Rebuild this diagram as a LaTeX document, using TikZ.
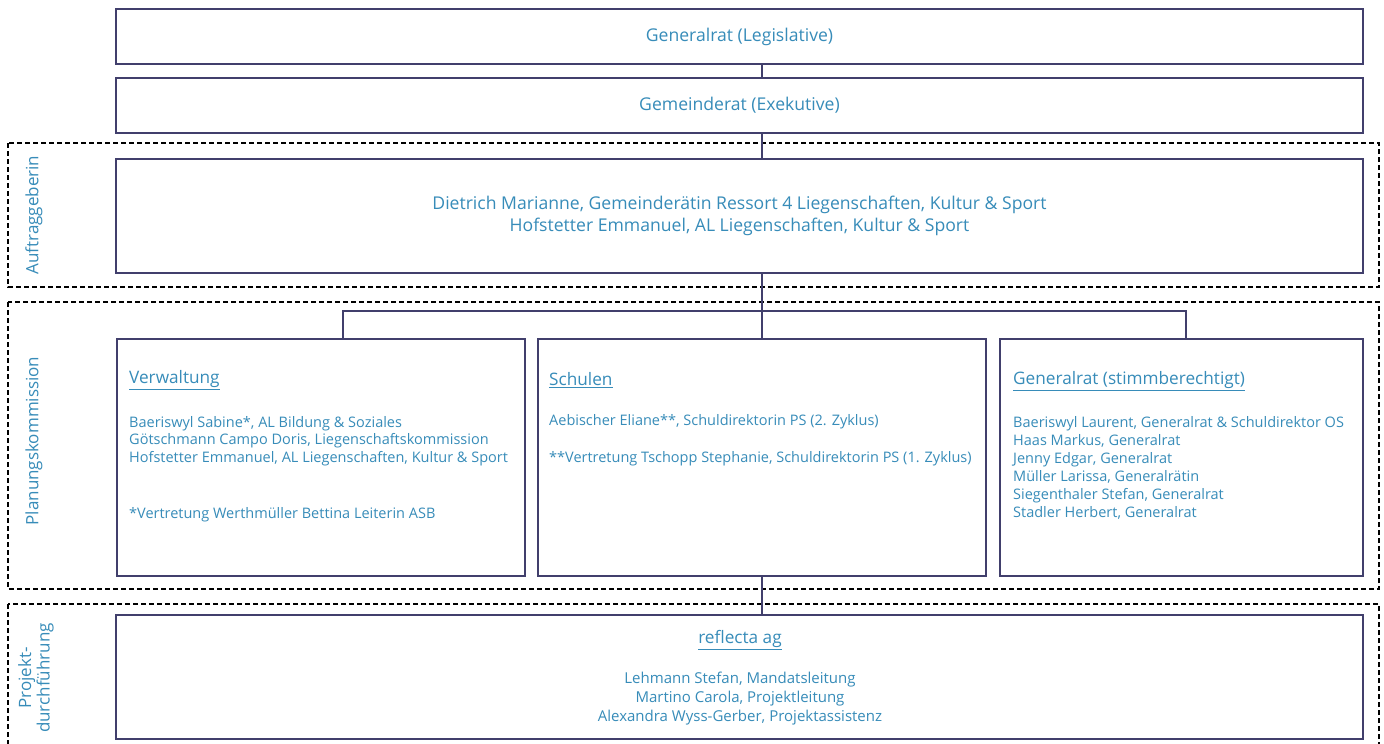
\documentclass[tikz,border=0pt]{standalone}
\usepackage{fontspec}
\setmainfont{Open Sans}
\definecolor{txt}{RGB}{55,140,185}
\definecolor{bord}{RGB}{65,63,108}
\begin{document}
\begin{tikzpicture}[x=1pt,y=-1pt,
  box/.style={draw=bord, line width=1.8pt, fill=white, inner sep=0pt},
  frame/.style={draw=black, line width=1.6pt, dash pattern=on 5pt off 3pt},
  conn/.style={draw=bord, line width=1.8pt},
  big/.style={text=txt, font=\fontsize{17.6}{22.5}\selectfont, align=center},
  head/.style={text=txt, font=\fontsize{17.2}{20}\selectfont, anchor=west, inner sep=0pt},
  small/.style={text=txt, font=\fontsize{14.5}{17.6}\selectfont, align=left, anchor=west, inner sep=0pt},
  lab/.style={text=txt, font=\fontsize{17}{18.5}\selectfont, rotate=90, align=center, inner sep=0pt}]
\useasboundingbox (0,0) rectangle (1384,744);
\clip (0,0) rectangle (1384,744);
\fill[white] (0,0) rectangle (1384,744);

% dashed frames
\draw[frame] (8,143) rectangle (1379,287);
\draw[frame] (8,302) rectangle (1379,589);
\draw[frame] (8,604) rectangle (1379,770);

% boxes
\node[box, big, minimum width=1247pt, minimum height=55pt] (legis) at (739.5,36.5) {Generalrat (Legislative)};
\node[box, big, minimum width=1247pt, minimum height=55pt] (exek) at (739.5,105.5) {Gemeinderat (Exekutive)};
\node[box, big, minimum width=1247pt, minimum height=114pt] (auftrag) at (739.5,216) {Dietrich Marianne, Gemeinderätin Ressort 4 Liegenschaften, Kultur \& Sport\\Hofstetter Emmanuel, AL Liegenschaften, Kultur \& Sport};
\node[box, minimum width=408pt, minimum height=237pt] (verw) at (321,457.5) {};
\node[box, minimum width=448pt, minimum height=237pt] (schulen) at (762,457.5) {};
\node[box, minimum width=363pt, minimum height=237pt] (gr) at (1181.5,457.5) {};
\node[box, minimum width=1247pt, minimum height=124pt] (refl) at (739.5,677) {};

% connectors
\coordinate (jl) at (343,311);
\coordinate (jr) at (1186,311);
\draw[conn] (schulen.north |- legis.south) -- (schulen.north |- exek.north);
\draw[conn] (schulen.north |- exek.south) -- (schulen.north |- auftrag.north);
\draw[conn] (schulen.north |- auftrag.south) -- (schulen.north);
\draw[conn] (jl |- verw.north) -- (jl) -- (jr) -- (jr |- gr.north);
\draw[conn] (schulen.south) -- (schulen.south |- refl.north);

% Verwaltung
\node[head] (verwh) at (129,380) {\underline{Verwaltung}};
\node[small] (verwt) at (129,441) {Baeriswyl Sabine*, AL Bildung \& Soziales\\Götschmann Campo Doris, Liegenschaftskommission\\Hofstetter Emmanuel, AL Liegenschaften, Kultur \& Sport};
\node[small] (verwf) at (129,515) {*Vertretung Werthmüller Bettina Leiterin ASB};

% Schulen
\node[head] (schh) at (549,380) {\underline{Schulen}};
\node[small] (scht) at (549,422) {Aebischer Eliane**, Schuldirektorin PS (2. Zyklus)};
\node[small] (schf) at (549,459) {**Vertretung Tschopp Stephanie, Schuldirektorin PS (1. Zyklus)};

% Generalrat
\node[head] (grh) at (1013,381) {\underline{Generalrat (stimmberechtigt)}};
\node[small, font=\fontsize{14.5}{18}\selectfont] (grt) at (1013,468) {Baeriswyl Laurent, Generalrat \& Schuldirektor OS\\Haas Markus, Generalrat\\Jenny Edgar, Generalrat\\Müller Larissa, Generalrätin\\Siegenthaler Stefan, Generalrat\\Stadler Herbert, Generalrat};

% reflecta
\node[head, anchor=center] (reflh) at (740,640) {\underline{reflecta ag}};
\node[small, anchor=center, align=center, font=\fontsize{15}{19}\selectfont] (reflt) at (740,699) {Lehmann Stefan, Mandatsleitung\\Martino Carola, Projektleitung\\Alexandra Wyss-Gerber, Projektassistenz};

% side labels
\node[lab] (l1) at (34,215) {Auftraggeberin};
\node[lab] (l2) at (34,441) {Planungskommission};
\node[lab] (l3) at (36,678) {Projekt-\\durchführung};
\end{tikzpicture}
\end{document}
